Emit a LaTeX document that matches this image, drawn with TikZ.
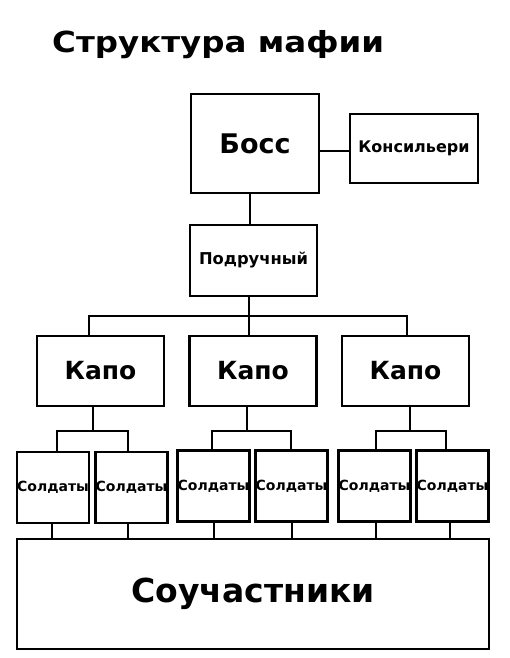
\documentclass[tikz,border=0pt]{standalone}
\usepackage{fontspec}
\setmainfont{DejaVu Sans}
\newcommand{\fs}[1]{\fontsize{#1}{#1}\selectfont\bfseries}
\begin{document}
\begin{tikzpicture}[x=1pt,y=-1pt,
  box/.style={draw,line width=2.4pt,inner sep=0pt,anchor=center},
  conn/.style={line width=2pt}]
\useasboundingbox (0,0) rectangle (509,658);
\fill[white] (0,0) rectangle (509,658);
% title
\node[anchor=base west,inner sep=0pt] (title) at (52,53) {\scalebox{1.12}[1]{\fs{29}Структура мафии}};
% boxes
\node[box,minimum width=128pt,minimum height=99pt,font=\fs{27}] (boss) at (255,143.5) {Босс};
\node[box,minimum width=128pt,minimum height=69pt,font=\fs{16}] (kons) at (414,148.5) {Консильери};
\node[box,minimum width=127pt,minimum height=71pt,font=\fs{16.3}] (pod) at (253.5,260.5) {Подручный};
\tikzset{capo/.style={box,minimum width=127pt,minimum height=70pt,font=\fs{25}}}
\node[capo] (capo1) at (100.5,371) {Капо};
\node[capo] (capo2) at (253,371) {Капо};
\node[capo] (capo3) at (405.5,371) {Капо};
\tikzset{sold/.style={box,minimum width=72pt,minimum height=71pt,font=\fs{14}}}
\node[sold] (s1) at (53,487.5) {Солдаты};
\node[sold] (s2) at (131.5,487.5) {Солдаты};
\node[sold] (s3) at (213.5,486) {Солдаты};
\node[sold] (s4) at (291.5,486) {Солдаты};
\node[sold] (s5) at (374.5,486) {Солдаты};
\node[sold] (s6) at (452.5,486) {Солдаты};
\node[box,minimum width=472pt,minimum height=110pt,font=\fs{33}] (big) at (253,594) {Соучастники};
% connectors
\draw[conn] (boss.east |- 0,151) -- (kons.west |- 0,151);
\draw[conn] (boss.south -| 250,0) -- (pod.north -| 250,0);
\coordinate (bar) at (249,316);
\draw[conn] (pod.south -| bar) -- (bar);
\draw[conn] (capo1.north -| 89,0) -- (89,316) -- (407,316) -- (capo3.north -| 407,0);
\draw[conn] (bar) -- (capo2.north -| bar);
% capo -> soldiers
\draw[conn] (capo1.south -| 93,0) -- (93,431);
\draw[conn] (s1.north -| 57,0) -- (57,431) -- (128,431) -- (s2.north -| 128,0);
\draw[conn] (capo2.south -| 247,0) -- (247,431);
\draw[conn] (s3.north -| 212,0) -- (212,431) -- (291,431) -- (s4.north -| 291,0);
\draw[conn] (capo3.south -| 410,0) -- (410,431);
\draw[conn] (s5.north -| 376,0) -- (376,431) -- (446,431) -- (s6.north -| 446,0);
% soldiers -> associates
\draw[conn] (s1.south -| 52,0) -- (big.north -| 52,0);
\draw[conn] (s2.south -| 128,0) -- (big.north -| 128,0);
\draw[conn] (s3.south -| 214,0) -- (big.north -| 214,0);
\draw[conn] (s4.south -| 292,0) -- (big.north -| 292,0);
\draw[conn] (s5.south -| 376,0) -- (big.north -| 376,0);
\draw[conn] (s6.south -| 450,0) -- (big.north -| 450,0);
\end{tikzpicture}
\end{document}
